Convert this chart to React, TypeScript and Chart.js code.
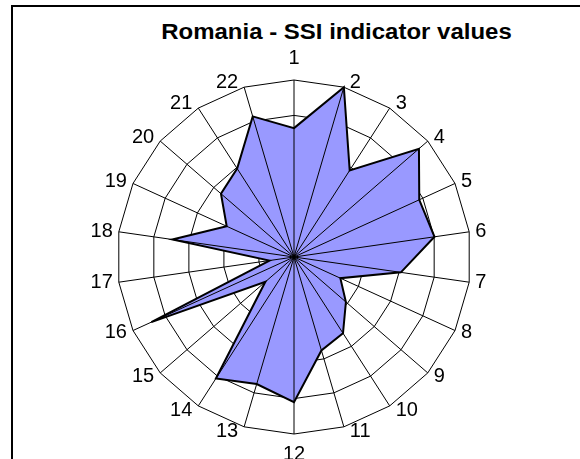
import React, { useEffect, useRef } from "react";
import { Chart, registerables } from "chart.js";

Chart.register(...registerables);

const TITLE = "Romania - SSI indicator values";
const categories = ["1", "2", "3", "4", "5", "6", "7", "8", "9", "10", "11", "12", "13", "14", "15", "16", "17", "18", "19", "20", "21", "22"];
const ssiValues = [3.64, 5.0, 2.91, 4.67, 3.89, 4.01, 3.05, 1.44, 1.94, 2.56, 2.75, 4.1, 3.74, 4.08, 1.07, 4.43, 0.7, 3.47, 2.09, 2.73, 2.97, 4.14];
const scaleMin = 0;
const scaleMax = 5;
const scaleStep = 1;

const FONT = '"Liberation Sans", Arial, sans-serif';

const overlayPlugin = {
  id: "overlay",
  afterDatasetsDraw(chart: any) {
    const s = chart.scales.r;
    const ctx = chart.ctx;
    ctx.save();
    // spokes drawn over the filled area
    ctx.strokeStyle = "#000";
    ctx.lineWidth = 1;
    for (let i = 0; i < categories.length; i++) {
      const p = s.getPointPosition(i, s.drawingArea);
      ctx.beginPath();
      ctx.moveTo(s.xCenter, s.yCenter);
      ctx.lineTo(p.x, p.y);
      ctx.stroke();
    }
    // category labels
    ctx.fillStyle = "#000";
    ctx.font = "20px " + FONT;
    for (let i = 0; i < categories.length; i++) {
      const a = s.getIndexAngle(i);
      const sn = Math.sin(a);
      const cs = Math.cos(a);
      const p = s.getPointPosition(i, s.drawingArea);
      if (Math.abs(sn) < 0.05) {
        ctx.textAlign = "center";
        ctx.textBaseline = "alphabetic";
        ctx.fillText(categories[i], p.x, cs > 0 ? p.y - 16 : p.y + 26);
      } else {
        ctx.textAlign = sn > 0 ? "left" : "right";
        ctx.textBaseline = "middle";
        ctx.fillText(categories[i], p.x + (sn > 0 ? 6 : -6), p.y - 5 * cs);
      }
    }
    ctx.restore();
  },
};

export default function App() {
  const ref = useRef<HTMLCanvasElement>(null);
  useEffect(() => {
    if (!ref.current) return;
    const chart = new Chart(ref.current, {
      type: "radar",
      data: {
        labels: categories,
        datasets: [
          {
            label: TITLE,
            data: ssiValues,
            backgroundColor: "#9999FF",
            borderColor: "#000000",
            borderWidth: 2,
            pointRadius: 0,
            fill: true,
            tension: 0,
          },
        ],
      },
      options: {
        animation: false,
        responsive: false,
        devicePixelRatio: 1,
        layout: { padding: { top: 80, left: 94, right: 186, bottom: 66 } },
        plugins: { legend: { display: false }, title: { display: false }, tooltip: { enabled: false } },
        scales: {
          r: {
            min: scaleMin,
            max: scaleMax,
            ticks: { display: false, stepSize: scaleStep },
            grid: { color: "#000", lineWidth: 1, circular: false },
            angleLines: { display: false },
            pointLabels: { display: false },
          },
        },
      },
      plugins: [overlayPlugin],
    });
    return () => chart.destroy();
  }, []);

  return (
    <div style={{ position: "fixed", left: 0, top: 0, width: 580, height: 459, overflow: "hidden", background: "#fff" }}>
      <div
        style={{
          position: "absolute",
          left: 11,
          top: 5,
          width: 700,
          height: 600,
          borderTop: "2px solid #000",
          borderLeft: "2px solid #000",
          boxSizing: "border-box",
        }}
      />
      <div
        style={{
          position: "absolute",
          left: 11,
          width: 651,
          top: 19,
          textAlign: "center",
          font: "bold 22px " + FONT,
          lineHeight: "26px",
          color: "#000",
          whiteSpace: "nowrap",
          transform: "scaleX(1.09)",
          transformOrigin: "center",
        }}
      >
        {TITLE}
      </div>
      <canvas ref={ref} width={680} height={500} style={{ position: "absolute", left: 0, top: 0, width: 680, height: 500 }} />
    </div>
  );
}
